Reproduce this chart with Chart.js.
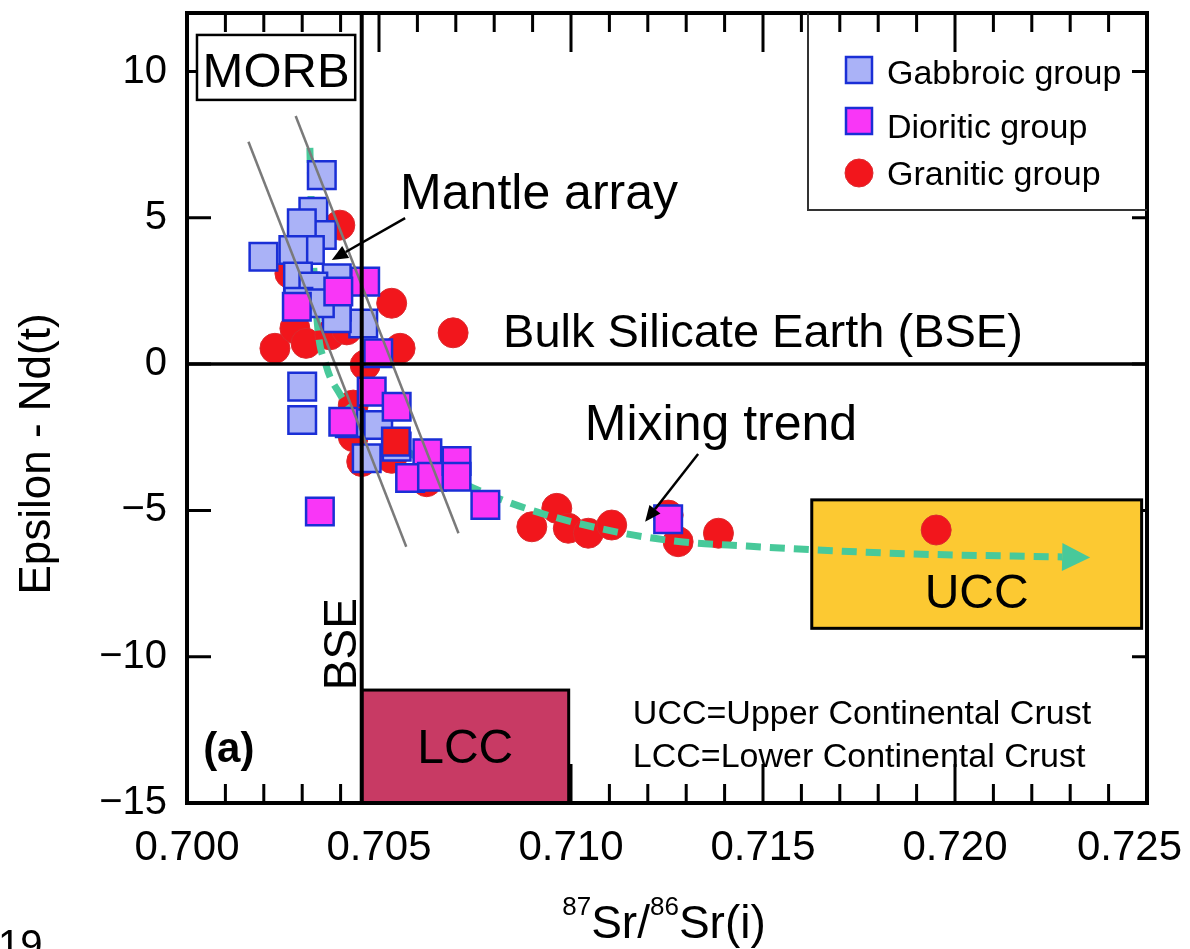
<!DOCTYPE html>
<html>
<head>
<meta charset="utf-8">
<script src="https://cdn.jsdelivr.net/npm/chart.js@4.4.1/dist/chart.umd.min.js"></script>
<style>
  html, body { margin: 0; padding: 0; background: #fff; }
  canvas { display: block; }
</style>
</head>
<body>
<canvas id="myChart" width="1190" height="949"></canvas>
<script>
const FONT = '"Liberation Sans", Arial, Helvetica, sans-serif'

// 87Sr/86Sr(i) and Epsilon Nd(t)
const gabbroicSr = [0.70351, 0.70329, 0.70351, 0.70299, 0.70320, 0.70199, 0.70277, 0.70390, 0.70307, 0.70289, 0.70329,
                    0.70290, 0.70459, 0.70390, 0.70300, 0.70300, 0.70498, 0.70468, 0.70424, 0.70546, 0.70390, 0.70346]
const gabbroicNd = [6.46, 5.21, 4.41, 4.81, 3.90, 3.67, 3.90, 2.93, 2.65, 2.99, 2.65,
                    2.13, 1.39, 1.96, -0.77, -1.91, -2.08, -3.22, -2.02, -2.82, 1.57, 2.08]

const dioriticSr = [0.70464, 0.70394, 0.70286, 0.70498, 0.70481, 0.70546, 0.70407, 0.70626, 0.70581, 0.70638,
                    0.70702, 0.70702, 0.70777, 0.70346, 0.71253]
const dioriticNd = [2.82, 2.48, 1.96, 0.37, -0.94, -1.46, -1.97, -3.05, -3.89, -3.85,
                    -3.31, -3.85, -4.81, -5.04, -5.30]

// one square drawn with a red fill
const redSquareSr = [0.70544]
const redSquareNd = [-2.65]

const graniticSr = [0.70398, 0.70268, 0.70533, 0.70693, 0.70229, 0.70281, 0.70310, 0.70372, 0.70416, 0.70555, 0.70464,
                    0.70433, 0.70433, 0.70455, 0.70533, 0.70624, 0.70898, 0.70963, 0.70993, 0.71045, 0.71106,
                    0.71253, 0.71279, 0.71384, 0.71951]
const graniticNd = [4.75, 3.10, 2.08, 1.07, 0.54, 1.22, 0.71, 1.00, 1.17, 0.54, -0.03,
                    -1.40, -2.48, -3.33, -3.22, -4.02, -5.56, -4.93, -5.61, -5.78, -5.50,
                    -5.16, -6.07, -5.78, -5.67]

// mixing trend (dashed green curve)
const mixSr = [0.70320, 0.70323, 0.70338, 0.70362, 0.70398, 0.70424, 0.70542, 0.70646, 0.70745, 0.70911,
               0.71120, 0.71292, 0.71458, 0.71635, 0.71896, 0.72279]
const mixNd = [7.39, 5.71, 1.62, -0.03, -1.02, -1.50, -2.70, -3.55, -4.23, -5.05,
               -5.74, -6.08, -6.22, -6.35, -6.49, -6.59]

// mantle array bounding lines
const mantleLeftSr = [0.70160, 0.70571]
const mantleLeftNd = [7.60, -6.24]
const mantleRightSr = [0.70283, 0.70707]
const mantleRightNd = [8.48, -5.78]

// reference lines and fields
const bseSr = 0.70455
const bseNd = 0
const uccBox = { x0: 0.71627, x1: 0.72486, y0: -9.03, y1: -4.64 }
const lccBox = { x0: 0.70455, x1: 0.70994, y0: -15, y1: -11.14 }
const morbBox = { x0: 0.70026, x1: 0.70438, y0: 9.03, y1: 11.25 }

const xTicks = [0.700, 0.705, 0.710, 0.715, 0.720, 0.725]
const xTickLabels = ['0.700', '0.705', '0.710', '0.715', '0.720', '0.725']
const yTicks = [-15, -10, -5, 0, 5, 10]

const pts = (xs, ys) => xs.map((x, i) => ({ x: x, y: ys[i] }))

function text(ctx, s, x, y, size, align, weight) {
    ctx.font = (weight || '') + ' ' + size + 'px ' + FONT
    ctx.textAlign = align || 'left'
    ctx.textBaseline = 'alphabetic'
    ctx.fillStyle = '#000'
    ctx.fillText(s, x, y)
}

function arrow(ctx, x1, y1, x2, y2, len, half, width, color) {
    const a = Math.atan2(y2 - y1, x2 - x1)
    const bx = x2 - len * Math.cos(a), by = y2 - len * Math.sin(a)
    ctx.strokeStyle = color
    ctx.fillStyle = color
    ctx.lineWidth = width
    ctx.setLineDash([])
    ctx.beginPath()
    ctx.moveTo(x1, y1)
    ctx.lineTo(bx, by)
    ctx.stroke()
    ctx.beginPath()
    ctx.moveTo(x2, y2)
    ctx.lineTo(bx + half * Math.sin(a), by - half * Math.cos(a))
    ctx.lineTo(bx - half * Math.sin(a), by + half * Math.cos(a))
    ctx.closePath()
    ctx.fill()
}

const decor = {
    id: 'decor',
    beforeDatasetsDraw(chart) {
        const ctx = chart.ctx
        const a = chart.chartArea
        const X = v => chart.scales.x.getPixelForValue(v)
        const Y = v => chart.scales.y.getPixelForValue(v)
        ctx.save()

        // inward ticks (under the LCC / UCC fields)
        ctx.strokeStyle = '#000'
        ctx.lineWidth = 3
        ctx.beginPath()
        for (let i = 1; i < 25; i++) {
            const v = 0.700 + i * 0.001
            const len = i % 5 == 0 ? 39 : 19
            const xx = X(v)
            ctx.moveTo(xx, a.top); ctx.lineTo(xx, a.top + len)
            ctx.moveTo(xx, a.bottom); ctx.lineTo(xx, a.bottom - len)
        }
        yTicks.forEach(v => {
            if (v <= -15) return
            const yy = Y(v)
            ctx.moveTo(a.left, yy); ctx.lineTo(a.left + 24, yy)
            ctx.moveTo(a.right, yy); ctx.lineTo(a.right - 15, yy)
        })
        ctx.stroke()

        // UCC / LCC fields
        ;[[uccBox, '#fcc932', 'UCC', -8.33], [lccBox, '#c83a64', 'LCC', -13.63]].forEach(([b, c, t, ty]) => {
            const l = X(b.x0), r = X(b.x1), top = Y(b.y1), bot = Y(b.y0)
            ctx.fillStyle = c
            ctx.fillRect(l, top, r - l, bot - top)
            ctx.strokeStyle = '#000'
            ctx.lineWidth = 3
            ctx.strokeRect(l, top, r - l, bot - top)
            text(ctx, t, (l + r) / 2, Y(ty), 48, 'center')
        })
        ctx.restore()
    },
    afterDatasetsDraw(chart) {
        const ctx = chart.ctx
        const a = chart.chartArea
        const X = v => chart.scales.x.getPixelForValue(v)
        const Y = v => chart.scales.y.getPixelForValue(v)
        ctx.save()

        // arrow head of the mixing trend
        const n = mixSr.length
        const ex = X(mixSr[n - 1]), ey = Y(mixNd[n - 1])
        const px = X(mixSr[n - 2]), py = Y(mixNd[n - 2])
        const ang = Math.atan2(ey - py, ex - px)
        ctx.fillStyle = '#48c99a'
        ctx.beginPath()
        ctx.moveTo(ex + 28 * Math.cos(ang), ey + 28 * Math.sin(ang))
        ctx.lineTo(ex - 14 * Math.sin(ang), ey + 14 * Math.cos(ang))
        ctx.lineTo(ex + 14 * Math.sin(ang), ey - 14 * Math.cos(ang))
        ctx.closePath()
        ctx.fill()

        // BSE reference lines
        ctx.strokeStyle = '#000'
        ctx.lineWidth = 4
        ctx.beginPath()
        ctx.moveTo(X(bseSr), a.top)
        ctx.lineTo(X(bseSr), a.bottom)
        ctx.stroke()
        ctx.lineWidth = 3.5
        ctx.beginPath()
        ctx.moveTo(a.left, Y(bseNd))
        ctx.lineTo(a.right, Y(bseNd))
        ctx.stroke()

        // MORB box
        const ml = X(morbBox.x0), mr = X(morbBox.x1), mt = Y(morbBox.y1), mb = Y(morbBox.y0)
        ctx.fillStyle = '#fff'
        ctx.fillRect(ml, mt, mr - ml, mb - mt)
        ctx.strokeStyle = '#000'
        ctx.lineWidth = 2.5
        ctx.strokeRect(ml, mt, mr - ml, mb - mt)

        // frame
        ctx.lineWidth = 4
        ctx.strokeRect(a.left, a.top, a.right - a.left, a.bottom - a.top)

        // x tick labels
        ctx.font = '42px ' + FONT
        xTicks.forEach((v, i) => {
            const w = ctx.measureText(xTickLabels[i]).width
            const cx = Math.min(X(v), chart.width - 8 - w / 2)
            text(ctx, xTickLabels[i], cx, a.bottom + 57, 42, 'center')
        })

        // x title with superscripts
        const parts = [['87', 26, -23], ['Sr/', 46, 0], ['86', 26, -23], ['Sr(i)', 46, 0]]
        let tw = 0
        parts.forEach(p => { ctx.font = p[1] + 'px ' + FONT; tw += ctx.measureText(p[0]).width })
        let tx = 664 - tw / 2
        parts.forEach(p => {
            ctx.font = p[1] + 'px ' + FONT
            const w = ctx.measureText(p[0]).width
            text(ctx, p[0], tx, 938 + p[2], p[1], 'left')
            tx += w
        })

        // y title
        ctx.save()
        ctx.translate(38, 454)
        ctx.rotate(-Math.PI / 2)
        ctx.font = '44px ' + FONT
        ctx.textAlign = 'center'
        ctx.textBaseline = 'middle'
        ctx.fillStyle = '#000'
        ctx.fillText('Epsilon - Nd(t)', 0, 0)
        ctx.restore()

        // BSE vertical label
        ctx.save()
        ctx.translate(X(bseSr) - 6, Y(-9.57))
        ctx.rotate(-Math.PI / 2)
        text(ctx, 'BSE', 0, 0, 46, 'center')
        ctx.restore()

        // annotations
        text(ctx, 'MORB', (ml + mr) / 2, Y(9.47), 49, 'center')
        text(ctx, 'Mantle array', X(0.70555), Y(5.30), 50)
        arrow(ctx, X(0.70568), Y(4.99), X(0.70377), Y(3.56), 16, 7, 2.5, '#000')
        text(ctx, 'Bulk Silicate Earth (BSE)', X(0.70823), Y(0.58), 47)
        text(ctx, 'Mixing trend', X(0.71036), Y(-2.59), 50)
        arrow(ctx, X(0.71331), Y(-3.07), X(0.71193), Y(-5.39), 16, 7, 2.5, '#000')
        text(ctx, 'UCC=Upper Continental Crust', X(0.71161), Y(-12.30), 34)
        text(ctx, 'LCC=Lower Continental Crust', X(0.71161), Y(-13.77), 34)
        text(ctx, '(a)', X(0.70042), Y(-13.6), 42, 'left', 'bold')

        // legend
        const lx = a.right - 339, lb = a.top + 197
        ctx.strokeStyle = '#333'
        ctx.lineWidth = 2
        ctx.beginPath()
        ctx.moveTo(lx, a.top)
        ctx.lineTo(lx, lb)
        ctx.lineTo(a.right, lb)
        ctx.stroke()
        const items = [[0, 57, 71], [1, 108, 125], [2, 160, 172]]
        items.forEach(([k, iy, ty]) => {
            const ds = chart.data.datasets.find(d => d.legendIndex === k)
            const cx = lx + 51, cy = a.top + iy
            ctx.fillStyle = ds.backgroundColor
            ctx.strokeStyle = ds.borderColor
            ctx.lineWidth = ds.borderWidth
            if (ds.pointStyle === 'rect') {
                ctx.fillRect(cx - 13, cy - 13, 26, 26)
                ctx.strokeRect(cx - 13, cy - 13, 26, 26)
            } else {
                ctx.beginPath()
                ctx.arc(cx, cy, 14, 0, Math.PI * 2)
                ctx.fill()
                ctx.stroke()
            }
            text(ctx, ds.label, lx + 79, a.top + ty, 34)
        })

        // page number fragment at the bottom edge
        text(ctx, '19', -2, 958, 40)
        ctx.restore()
    }
}

new Chart('myChart', {
    type: 'scatter',
    data: {
        datasets: [
            { label: 'mantle left', type: 'line', data: pts(mantleLeftSr, mantleLeftNd),
              borderColor: '#7a7a7a', borderWidth: 2.5, pointRadius: 0, order: 0 },
            { label: 'mantle right', type: 'line', data: pts(mantleRightSr, mantleRightNd),
              borderColor: '#7a7a7a', borderWidth: 2.5, pointRadius: 0, order: 0 },
            { label: 'red square', data: pts(redSquareSr, redSquareNd), pointStyle: 'rect', pointRadius: 19.5,
              backgroundColor: '#f2161c', borderColor: '#1a2fd6', borderWidth: 2.5, order: 1 },
            { label: 'Dioritic group', legendIndex: 1, data: pts(dioriticSr, dioriticNd), pointStyle: 'rect', pointRadius: 19.5,
              backgroundColor: '#f936f7', borderColor: '#1a2fd6', borderWidth: 2.5, order: 2 },
            { label: 'Gabbroic group', legendIndex: 0, data: pts(gabbroicSr, gabbroicNd), pointStyle: 'rect', pointRadius: 19.5,
              backgroundColor: '#aab2f7', borderColor: '#1a2fd6', borderWidth: 2.5, order: 3 },
            { label: 'Mixing trend', type: 'line', data: pts(mixSr, mixNd), borderColor: '#48c99a', borderWidth: 7,
              borderDash: [15, 9], cubicInterpolationMode: 'monotone', pointRadius: 0, fill: false, order: 4 },
            { label: 'Granitic group', legendIndex: 2, data: pts(graniticSr, graniticNd), pointStyle: 'circle', pointRadius: 15,
              backgroundColor: '#f2161c', borderColor: '#dc2a2e', borderWidth: 1, order: 5 }
        ]
    },
    options: {
        responsive: false,
        animation: false,
        devicePixelRatio: 1,
        layout: { padding: { top: 13, right: 43, left: 0, bottom: 0 }, autoPadding: false },
        plugins: { legend: { display: false }, tooltip: { enabled: false } },
        scales: {
            x: {
                type: 'linear', min: 0.700, max: 0.725,
                grid: { display: false, drawTicks: false }, border: { display: false },
                ticks: { display: false },
                afterFit: s => { s.height = 146; s.paddingLeft = 0; s.paddingRight = 0 }
            },
            y: {
                type: 'linear', min: -15, max: 12,
                grid: { display: false, drawTicks: false }, border: { display: false },
                ticks: {
                    stepSize: 5, includeBounds: false, padding: 20, color: '#000',
                    font: { family: FONT, size: 40 },
                    callback: v => String(v).replace('-', '\u2212')
                },
                afterFit: s => { s.width = 187; s.paddingTop = 0; s.paddingBottom = 0 }
            }
        }
    },
    plugins: [decor]
})
</script>
</body>
</html>
